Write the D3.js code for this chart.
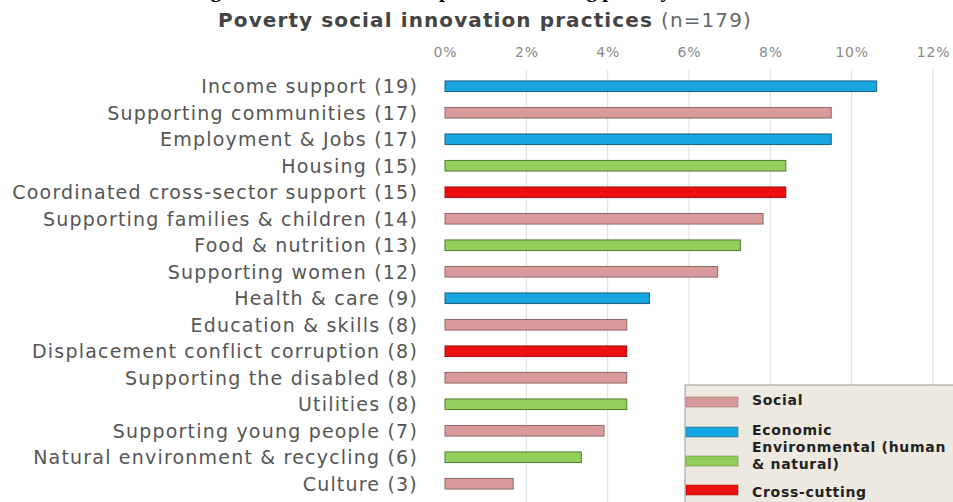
<!DOCTYPE html>
<html>
<head>
<meta charset="utf-8">
<script src="https://cdn.jsdelivr.net/npm/d3@7"></script>
<style>
  body { margin: 0; background: #fff; }
  svg { display: block; }
</style>
</head>
<body>
<div id="chart"></div>
<script>
// poverty social innovation practices, share of n=179
var total = 179
var practices = [
  "Income support", "Supporting communities", "Employment & Jobs", "Housing",
  "Coordinated cross-sector support", "Supporting families & children", "Food & nutrition",
  "Supporting women", "Health & care", "Education & skills", "Displacement conflict corruption",
  "Supporting the disabled", "Utilities", "Supporting young people",
  "Natural environment & recycling", "Culture"
]
var counts = [19, 17, 17, 15, 15, 14, 13, 12, 9, 8, 8, 8, 8, 7, 6, 3]
var kinds = [
  "economic", "social", "economic", "environmental", "cross", "social", "environmental",
  "social", "economic", "social", "cross", "social", "environmental", "social",
  "environmental", "social"
]
var tickValues = [0, 0.02, 0.04, 0.06, 0.08, 0.10, 0.12]
var legendKeys = ["social", "economic", "environmental", "cross"]
var legendLabels = [["Social"], ["Economic"], ["Environmental (human", "& natural)"], ["Cross-cutting"]]

var fills = { social: "#d99a9c", economic: "#17a6e0", environmental: "#93cf5b", cross: "#ee1010" }
var strokes = { social: "#8e6767", economic: "#1d5d7d", environmental: "#4f7a34", cross: "#9c1212" }

var width = 953, height = 502
var svg = d3.select("#chart").append("svg").attr("width", width).attr("height", height)

// caption of the page above, cropped at the top edge of the scan
svg.append("text")
  .attr("x", 192).attr("y", -3)
  .style("font-family", "Liberation Serif").style("font-weight", "bold").style("font-size", "21px")
  .attr("fill", "#000")
  .text("Figure 3: Social innovation practices tackling poverty")

var x = d3.scaleLinear().domain([0, 0.12]).range([445, 933])
var y = d3.scaleBand().domain(practices).range([73, 497]).paddingInner(0.6).paddingOuter(0.3)

// title
var title = svg.append("text")
  .attr("x", 485).attr("y", 27).attr("text-anchor", "middle")
  .style("font-family", "DejaVu Sans").style("font-size", "20px").style("letter-spacing", "1.1px")
  .attr("fill", "#444")
title.append("tspan").style("font-weight", "bold").text("Poverty social innovation practices ")
title.append("tspan").attr("fill", "#666").text("(n=179)")

// grid
svg.append("g").selectAll("line")
  .data(tickValues.slice(1))
  .join("line")
  .attr("x1", d => x(d)).attr("x2", d => x(d))
  .attr("y1", 70).attr("y2", height)
  .attr("stroke", "#dcdcdc").attr("stroke-width", 1)

// top axis
var axis = svg.append("g").attr("transform", "translate(0,72)")
  .call(d3.axisTop(x).tickValues(tickValues).tickFormat(d3.format(".0%")).tickSize(0).tickPadding(15))
axis.select(".domain").remove()
axis.selectAll("text")
  .style("font-family", "DejaVu Sans").style("font-size", "14px").style("letter-spacing", "0.8px")
  .attr("fill", "#8a8a8a")

// category labels
svg.append("g").selectAll("text")
  .data(practices)
  .join("text")
  .attr("x", 418).attr("y", d => y(d) + y.bandwidth() / 2)
  .attr("dy", "0.36em").attr("text-anchor", "end")
  .style("font-family", "DejaVu Sans").style("font-size", "19px").style("letter-spacing", "1.2px")
  .attr("fill", "#555")
  .text((d, i) => d + " (" + counts[i] + ")")

// bars
svg.append("g").selectAll("rect")
  .data(practices)
  .join("rect")
  .attr("x", x(0)).attr("y", d => y(d))
  .attr("width", (d, i) => x(counts[i] / total) - x(0))
  .attr("height", y.bandwidth())
  .attr("fill", (d, i) => fills[kinds[i]])
  .attr("stroke", (d, i) => strokes[kinds[i]]).attr("stroke-width", 1)

// legend, also cropped by the scan
var legend = svg.append("g").attr("transform", "translate(685,385)")
legend.append("rect").attr("x", 0).attr("y", 0).attr("width", 280).attr("height", 130)
  .attr("fill", "#ede9e1").attr("stroke", "#999")
var swatchY = [12, 42, 71, 100]
var labelY = [20, 50, 67, 112]
legendKeys.forEach(function (k, i) {
  legend.append("rect").attr("x", 1).attr("y", swatchY[i]).attr("width", 52).attr("height", 10)
    .attr("fill", fills[k]).attr("stroke", strokes[k]).attr("stroke-opacity", 0.5)
  var t = legend.append("text").attr("x", 67).attr("y", labelY[i])
    .style("font-family", "DejaVu Sans").style("font-weight", "bold").style("font-size", "14px")
    .style("letter-spacing", "0.7px").attr("fill", "#222")
  legendLabels[i].forEach(function (line, j) {
    t.append("tspan").attr("x", 67).attr("dy", j ? 17 : 0).text(line)
  })
})
</script>
</body>
</html>
